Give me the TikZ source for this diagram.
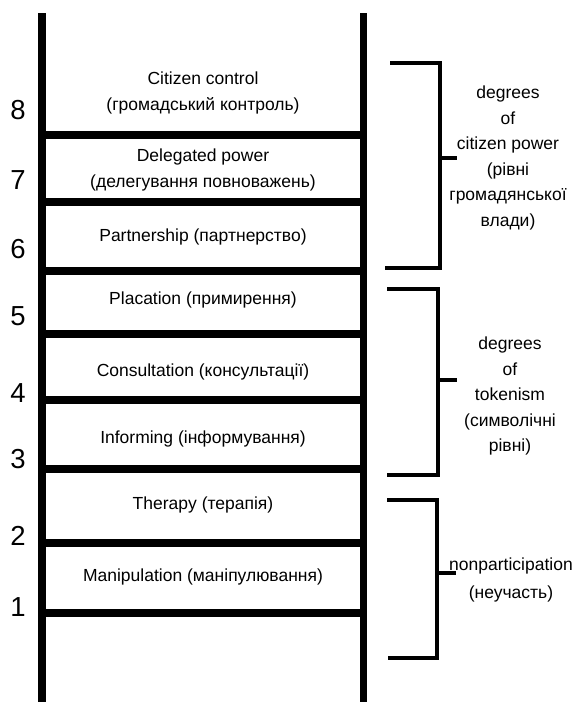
\documentclass[tikz,border=0pt]{standalone}
\usepackage{fontspec}
\setmainfont{Liberation Sans}
\usepackage{tikz}

\begin{document}
\begin{tikzpicture}[x=1pt, y=-1pt,
  rail/.style={line width=7.5pt},
  rung/.style={line width=7.5pt},
  bracket/.style={line width=4pt},
  num/.style={font=\fontsize{27.5}{30}\selectfont, inner sep=0pt},
  rungtext/.style={font=\fontsize{17.5}{26.5}\selectfont, align=center, inner sep=0pt},
  grouptext/.style={font=\fontsize{17.5}{25.5}\selectfont, align=center, inner sep=0pt}]
\useasboundingbox (0,0) rectangle (575,702);

% the two rails of the ladder
\coordinate (LT) at (42,13);
\coordinate (LB) at (42,702);
\coordinate (RT) at (363.5,13);
\coordinate (RB) at (363.5,702);
\draw[rail] (LT) -- (LB);
\draw[rail] (RT) -- (RB);

% rungs
\draw[rung] (42,135) -- (363.5,135);
\draw[rung] (42,202) -- (363.5,202);
\draw[rung] (42,271) -- (363.5,271);
\draw[rung] (42,334) -- (363.5,334);
\draw[rung] (42,400) -- (363.5,400);
\draw[rung] (42,469) -- (363.5,469);
\draw[rung] (42,543) -- (363.5,543);
\draw[rung] (42,613) -- (363.5,613);

% step numbers
\node[num] (n8) at (18,110) {8};
\node[num] (n7) at (18,180) {7};
\node[num] (n6) at (18,249) {6};
\node[num] (n5) at (18,316) {5};
\node[num] (n4) at (18,393) {4};
\node[num] (n3) at (18,459) {3};
\node[num] (n2) at (18,536) {2};
\node[num] (n1) at (18,607) {1};

% step names
\node[rungtext] (control) at (203,93) {Citizen control\\(громадський контроль)};
\node[rungtext] (delegated) at (203,170) {Delegated power\\(делегування повноважень)};
\node[rungtext] (partnership) at (203,237) {Partnership (партнерство)};
\node[rungtext] (placation) at (203,300) {Placation (примирення)};
\node[rungtext] (consultation) at (203,372) {Consultation (консультації)};
\node[rungtext] (informing) at (203,439) {Informing (інформування)};
\node[rungtext] (therapy) at (203,505) {Therapy (терапія)};
\node[rungtext] (manipulation) at (203,577) {Manipulation (маніпулювання)};

% brackets for the groups
\draw[bracket] (390,63) -- (440,63) -- (440,268) -- (385,268);
\draw[bracket] (440,158) -- (457,158);
\draw[bracket] (387,289) -- (438,289) -- (438,475) -- (387,475);
\draw[bracket] (438,380) -- (457,380);
\draw[bracket] (387,500) -- (437,500) -- (437,658) -- (388,658);
\draw[bracket] (437,573) -- (456,573);

% group names
\node[grouptext] (power) at (508,158) {degrees\\of\\citizen power\\(рівні\\громадянської\\влади)};
\node[grouptext] (tokenism) at (510,396) {degrees\\of\\tokenism\\(символічні\\рівні)};
\node[grouptext, font=\fontsize{17.5}{28.5}\selectfont] (nonpart) at (511,580) {nonparticipation\\(неучасть)};

\end{tikzpicture}
\end{document}
